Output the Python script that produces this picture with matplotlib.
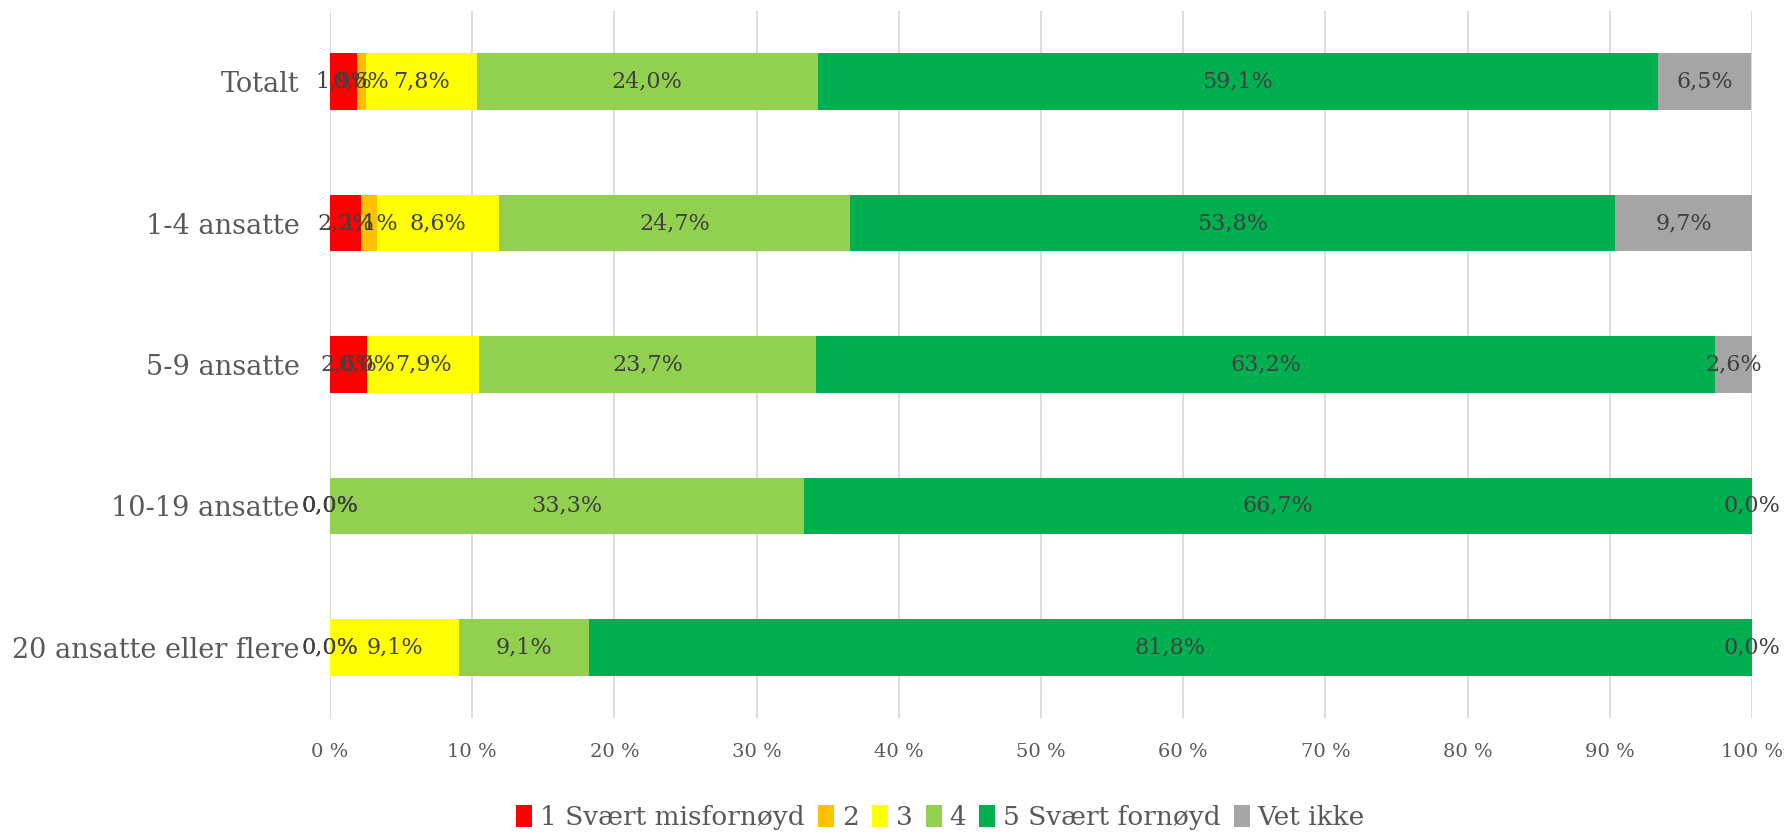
import matplotlib
matplotlib.use("Agg")
import matplotlib.pyplot as plt
import numpy as np
from matplotlib.ticker import FuncFormatter

categories = ["Totalt", "1-4 ansatte", "5-9 ansatte", "10-19 ansatte", "20 ansatte eller flere"]
series_names = ["1 Svært misfornøyd", "2", "3", "4", "5 Svært fornøyd", "Vet ikke"]
colors = ["#FF0000", "#FFC000", "#FFFF00", "#92D050", "#00B050", "#A5A5A5"]

misfornoyd = [1.9, 2.2, 2.6, 0.0, 0.0]
to = [0.6, 1.1, 0.0, 0.0, 0.0]
tre = [7.8, 8.6, 7.9, 0.0, 9.1]
fire = [24.0, 24.7, 23.7, 33.3, 9.1]
fornoyd = [59.1, 53.8, 63.2, 66.7, 81.8]
vet_ikke = [6.5, 9.7, 2.6, 0.0, 0.0]

series = [misfornoyd, to, tre, fire, fornoyd, vet_ikke]

plt.rcParams["font.family"] = ["DejaVu Serif"]

fig = plt.figure(figsize=(17.85, 8.38), dpi=100)
ax = fig.add_axes([0.1849, 0.1432, 0.9815 - 0.1849, 0.9869 - 0.1432])

y = np.arange(len(categories))
left = np.zeros(len(categories))
for name, vals, col in zip(series_names, series, colors):
    vals = np.array(vals)
    ax.barh(y, vals, left=left, height=0.4, color=col, label=name, zorder=2)
    for yi, l, v in zip(y, left, vals):
        ax.text(l + v / 2, yi, f"{v:.1f}%".replace(".", ","), ha="center", va="center",
                fontsize=16, color="#404040", zorder=3)
    left += vals

ax.set_xlim(0, 100)
ax.set_ylim(len(categories) - 0.5, -0.5)
ax.set_xticks(np.arange(0, 101, 10))
ax.xaxis.set_major_formatter(FuncFormatter(lambda v, p: f"{int(v)} %"))
ax.set_yticks(y)
ax.set_yticklabels(categories)
ax.tick_params(axis="y", length=0, labelsize=19.5, labelcolor="#595959", pad=22)
ax.tick_params(axis="x", length=0, labelsize=14, labelcolor="#595959", pad=18)
ax.grid(axis="x", color="#D9D9D9", linewidth=1.3, zorder=0)
for s in ax.spines.values():
    s.set_visible(False)

handles, labels = ax.get_legend_handles_labels()
fig.legend(handles, labels, loc="center", bbox_to_anchor=(0.527, 0.024),
           ncol=6, frameon=False, fontsize=19, handlelength=0.6, handleheight=0.9,
           handletextpad=0.3, columnspacing=0.5, labelcolor="#595959")

fig.savefig("out.png", dpi=100)
